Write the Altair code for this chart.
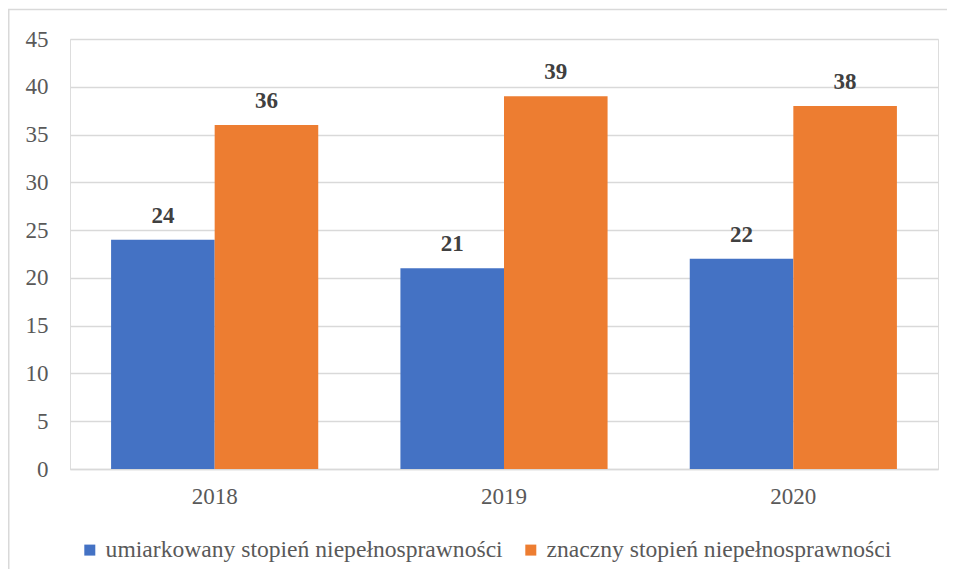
import altair as alt
import pandas as pd

years = ["2018", "2019", "2020"]
series = ["umiarkowany stopień niepełnosprawności", "znaczny stopień niepełnosprawności"]
umiarkowany = [24, 21, 22]
znaczny = [36, 39, 38]
colors = ["#4472C4", "#ED7D31"]

rows = []
for i, y in enumerate(years):
    rows.append({"rok": y, "seria": series[0], "wartosc": umiarkowany[i]})
    rows.append({"rok": y, "seria": series[1], "wartosc": znaczny[i]})
df = pd.DataFrame(rows)

W, H = 868, 430
PL, PT, PR, PB = 62, 31, 9, 100
FONT = "Liberation Serif"

x = alt.X("rok:N", title=None, sort=years,
          scale=alt.Scale(paddingInner=0.284, paddingOuter=0.142),
          axis=alt.Axis(labelAngle=0, labelFontSize=23, labelFont=FONT, labelColor="#595959",
                        labelPadding=16, ticks=False, domain=True, domainColor="#d9d9d9",
                        domainWidth=1.5, grid=False))
xoff = alt.XOffset("seria:N", sort=series)

bars = alt.Chart(df).mark_bar().encode(
    x=x,
    xOffset=xoff,
    y=alt.Y("wartosc:Q", title=None,
            scale=alt.Scale(domain=[0, 45], nice=False),
            axis=alt.Axis(values=list(range(0, 50, 5)), labelFontSize=23, labelFont=FONT,
                          labelColor="#595959", labelPadding=22, ticks=False, domain=False,
                          gridColor="#d9d9d9", gridWidth=1.5)),
    color=alt.Color("seria:N", sort=series,
                    scale=alt.Scale(domain=series, range=colors),
                    legend=alt.Legend(title=None, orient="none", direction="horizontal",
                                      legendX=8, legendY=499, symbolType="square",
                                      symbolSize=121, symbolStrokeWidth=0, labelFontSize=23.6,
                                      labelFont=FONT, labelColor="#595959", labelLimit=700,
                                      columnPadding=16, labelOffset=4)),
)

labels = alt.Chart(df).mark_text(baseline="alphabetic", dy=-17, fontSize=23, fontWeight="bold",
                                 font=FONT, color="#404040").encode(
    x=alt.X("rok:N", sort=years),
    xOffset=xoff,
    y="wartosc:Q",
    text="wartosc:Q",
)

border = alt.Chart(pd.DataFrame({"a": [0]})).mark_rect(
    filled=False, stroke="#d9d9d9", strokeWidth=1.5).encode(
    x=alt.value(-PL + 0.75), x2=alt.value(W + PR + 20),
    y=alt.value(-PT + 1.5), y2=alt.value(H + PB + 20),
)

chart = alt.layer(bars, labels, border).properties(
    width=W, height=H,
    autosize=alt.AutoSizeParams(type="none"),
    padding={"left": PL, "top": PT, "right": PR, "bottom": PB},
).configure_view(stroke=None).configure(background="white", font=FONT).configure_axis(
    labelFont=FONT).configure_legend(labelFont=FONT)

chart.save("out.html", embed_options={"renderer": "svg", "actions": False})
